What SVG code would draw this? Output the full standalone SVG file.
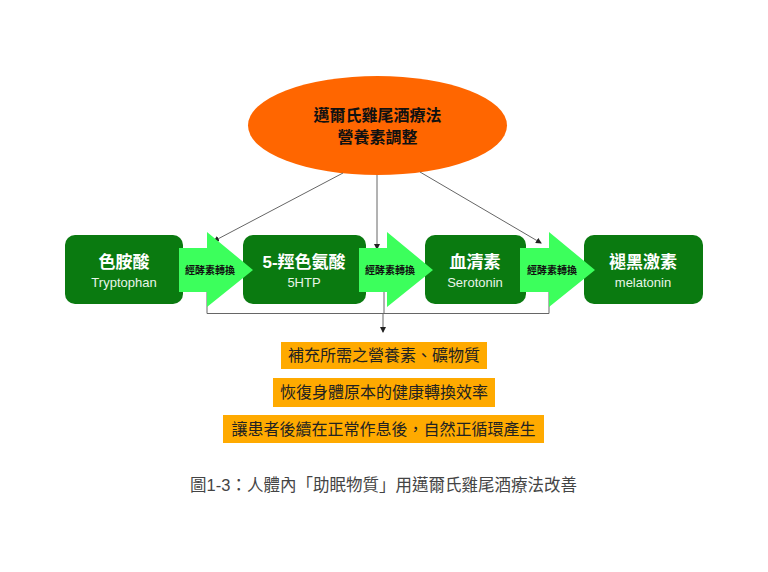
<svg xmlns="http://www.w3.org/2000/svg" width="768" height="572" viewBox="0 0 768 572">
<style>
.box{fill:#0a7a10;}
.arr{fill:#3cff5c;}
.t{font-family:"Liberation Sans","Noto Sans CJK TC",sans-serif;}
.bt{font-family:"Liberation Sans","Noto Sans CJK TC",sans-serif;font-size:17px;font-weight:bold;fill:#fff;text-anchor:middle;}
.be{font-family:"Liberation Sans","Noto Sans CJK TC",sans-serif;font-size:13px;fill:#e8f5e8;text-anchor:middle;}
.at{font-family:"Liberation Sans","Noto Sans CJK TC",sans-serif;font-size:10px;font-weight:bold;fill:#111;text-anchor:middle;}
.ob{fill:#ffaa00;}
.ot{font-family:"Liberation Sans","Noto Sans CJK TC",sans-serif;font-size:16px;fill:#222;text-anchor:middle;}
.ln{stroke:#666;stroke-width:1;fill:none;}
</style>
<defs>
<marker id="ah" markerWidth="6" markerHeight="6" refX="5" refY="3" orient="auto" markerUnits="userSpaceOnUse">
<path d="M0,0 L6,3 L0,6 z" fill="#222"/>
</marker>
</defs>
<rect width="768" height="572" fill="#fff"/>
<g id="ellipse">
<ellipse cx="377.5" cy="125.5" rx="129.5" ry="49.5" fill="#ff6600"/>
<text class="t" x="377.5" y="121" font-size="16" font-weight="bold" fill="#111" text-anchor="middle">邁爾氏雞尾酒療法</text>
<text class="t" x="377.5" y="143" font-size="16" font-weight="bold" fill="#111" text-anchor="middle">營養素調整</text>
</g>
<g id="connectors">
<line class="ln" x1="343" y1="173" x2="214" y2="241" marker-end="url(#ah)"/>
<line class="ln" x1="377" y1="175" x2="377" y2="249" marker-end="url(#ah)"/>
<line class="ln" x1="420" y1="172" x2="541" y2="243" marker-end="url(#ah)"/>
<polyline class="ln" points="207,292 207,313.5 549,313.5 549,292"/>
<line class="ln" x1="384" y1="292" x2="384" y2="313"/>
<line class="ln" x1="383" y1="313" x2="383" y2="332" marker-end="url(#ah)"/>
</g>
<g id="n-tryptophan">
<rect class="box" x="65" y="235" width="118" height="69" rx="10"/>
<text class="bt" x="124" y="268">色胺酸</text>
<text class="be" x="124" y="287">Tryptophan</text>
</g>
<g id="n-5htp">
<rect class="box" x="243" y="235" width="123" height="69" rx="10"/>
<text class="bt" x="304" y="268">5-羥色氨酸</text>
<text class="be" x="304" y="287">5HTP</text>
</g>
<g id="n-serotonin">
<rect class="box" x="425" y="235" width="101" height="69" rx="10"/>
<text class="bt" x="475" y="268">血清素</text>
<text class="be" x="475" y="287">Serotonin</text>
</g>
<g id="n-melatonin">
<rect class="box" x="584" y="235" width="119" height="69" rx="10"/>
<text class="bt" x="643" y="268">褪黑激素</text>
<text class="be" x="643" y="287">melatonin</text>
</g>
<g id="a1">
<path class="arr" d="M179,248 H207 V232 L253,270 L207,307 V292 H179 Z"/>
<text class="at" x="210" y="274">經酵素轉換</text>
</g>
<g id="a2">
<path class="arr" d="M359,248 H387 V232 L433,270 L387,307 V292 H359 Z"/>
<text class="at" x="390" y="274">經酵素轉換</text>
</g>
<g id="a3">
<path class="arr" d="M520,248 H549 V232 L595,270 L549,307 V292 H520 Z"/>
<text class="at" x="552" y="274">經酵素轉換</text>
</g>
<g id="o1">
<rect class="ob" x="281" y="342" width="206" height="27"/>
<text class="ot" x="384" y="361">補充所需之營養素、礦物質</text>
</g>
<g id="o2">
<rect class="ob" x="273" y="378" width="222" height="29"/>
<text class="ot" x="384" y="398">恢復身體原本的健康轉換效率</text>
</g>
<g id="o3">
<rect class="ob" x="223" y="415" width="321" height="28"/>
<text class="ot" x="383.5" y="435">讓患者後續在正常作息後，自然正循環產生</text>
</g>
<g id="caption">
<text class="t" x="383.5" y="491" font-size="16.5" fill="#444" text-anchor="middle">圖1-3：人體內「助眠物質」用邁爾氏雞尾酒療法改善</text>
</g>
</svg>
